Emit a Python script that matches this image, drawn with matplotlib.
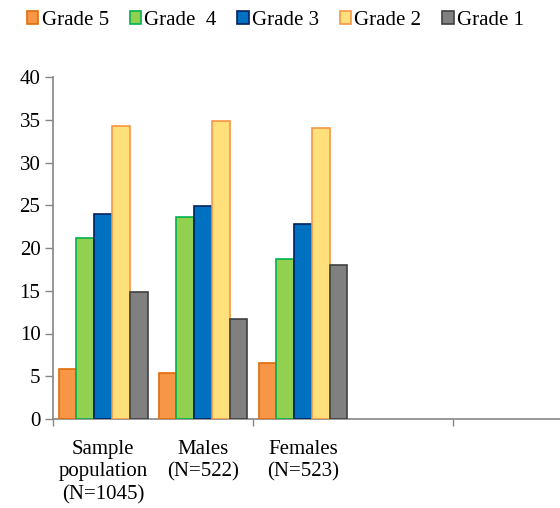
import matplotlib
matplotlib.use("Agg")
import matplotlib.pyplot as plt
from matplotlib.transforms import blended_transform_factory

# ---------------------------------------------------------------------------
# Data
# ---------------------------------------------------------------------------

categories = ["Sample\npopulation\n(N=1045)", "Males\n(N=522)", "Females\n(N=523)"]
series_names = ["Grade 5", "Grade  4", "Grade 3", "Grade 2", "Grade 1"]
grade5 = [5.9, 5.4, 6.5]
grade4 = [21.2, 23.6, 18.7]
grade3 = [24.0, 24.9, 22.8]
grade2 = [34.3, 34.9, 34.0]
grade1 = [14.8, 11.7, 18.0]
y_ticks = [0, 5, 10, 15, 20, 25, 30, 35, 40]

FILLS = ["#F79646", "#92D050", "#0070C0", "#FFE07A", "#808080"]
EDGES = ["#E36C09", "#00B050", "#002060", "#F79646", "#404040"]

plt.rcParams["font.family"] = "serif"
plt.rcParams["font.serif"] = ["Liberation Serif", "DejaVu Serif"]
FS = 15

fig = plt.figure(figsize=(5.6, 5.08), dpi=100)
ax = fig.add_axes([53 / 560, 89 / 508, 507 / 560, 342 / 508])

width = 0.178
values = [grade5, grade4, grade3, grade2, grade1]
x = list(range(len(categories)))
for i, (name, vals) in enumerate(zip(series_names, values)):
    offs = (i - 2) * width
    ax.bar([xi + offs for xi in x], vals, width=width, color=FILLS[i],
           edgecolor=EDGES[i], linewidth=1.2, label=name, zorder=3)

ax.set_xlim(-0.5, -0.5 + 5.07)
ax.set_ylim(0, 40)
ax.set_yticks(y_ticks)
ax.tick_params(axis="y", labelsize=FS, length=6, width=1, color="#868686",
               direction="out", pad=3)
ax.set_xticks([-0.5, 1.5, 3.5])
ax.set_xticklabels([])
ax.tick_params(axis="x", length=5, width=1, color="#868686", direction="out")

for s in ["top", "right"]:
    ax.spines[s].set_visible(False)
for s in ["left", "bottom"]:
    ax.spines[s].set_color("#868686")
    ax.spines[s].set_linewidth(1.2)

trans = blended_transform_factory(ax.transData, ax.transAxes)
for xi, lab in zip(x, categories):
    ax.text(xi, -0.061, lab, transform=trans, ha="center", va="top",
            fontsize=FS, linespacing=1.25)

fig.legend(loc="upper left", bbox_to_anchor=(27 / 560, 1 - 11 / 508), ncol=5,
           frameon=False, fontsize=FS, handlelength=0.55, handleheight=0.55,
           handletextpad=0.15, columnspacing=1.0, borderaxespad=0,
           borderpad=0)

fig.savefig("out.png", dpi=100)
